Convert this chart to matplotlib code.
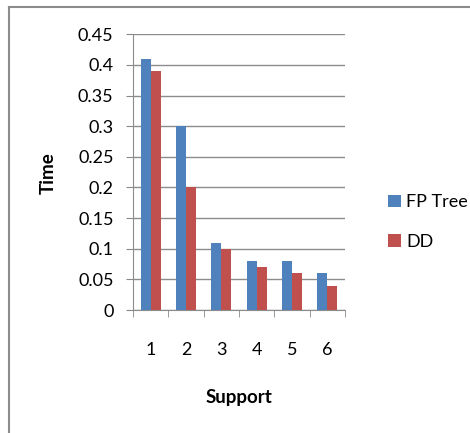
import matplotlib.pyplot as plt
import numpy as np
from matplotlib.lines import Line2D

support = [1, 2, 3, 4, 5, 6]
fp_tree = [0.41, 0.30, 0.11, 0.08, 0.08, 0.06]
dd = [0.39, 0.20, 0.10, 0.07, 0.06, 0.04]

plt.rcParams['font.family'] = ['Lato', 'DejaVu Sans']

fig = plt.figure(figsize=(4.70, 4.33), dpi=100)
ax = fig.add_axes([0.283, 0.284, 0.451, 0.637])

x = np.arange(len(support))
w = 0.28
ax.bar(x - w/2, fp_tree, w, color='#4F81BD', label='FP Tree', zorder=3)
ax.bar(x + w/2, dd, w, color='#C0504D', label='DD', zorder=3)

ax.set_xlim(-0.5, len(support) - 0.5)
ax.set_ylim(0, 0.45)
ax.set_yticks(np.arange(0, 0.451, 0.05))
ax.set_yticklabels(['0', '0.05', '0.1', '0.15', '0.2', '0.25', '0.3', '0.35', '0.4', '0.45'])
ax.set_xticks(x)
ax.set_xticklabels([str(s) for s in support])
ax.set_xticks(np.arange(-0.5, len(support)), minor=True)
ax.tick_params(axis='x', which='major', length=0, pad=23, labelsize=13, colors='black')
ax.tick_params(axis='x', which='minor', length=5, color='#888888', direction='out')
ax.tick_params(axis='y', length=5, color='#888888', pad=9, labelsize=13)

ax.grid(axis='y', color='#8c8c8c', linewidth=1, zorder=0)
for s in ['top', 'right']:
    ax.spines[s].set_visible(False)
for s in ['left', 'bottom']:
    ax.spines[s].set_color('#8c8c8c')

fig.text(48/470, 1 - 173/433, 'Time', rotation=90, ha='center', va='center',
         fontsize=13.5, fontweight='bold')
fig.text(239/470, 1 - 397/433, 'Support', ha='center', va='center',
         fontsize=13.5, fontweight='bold')

ax.legend(loc='center left', bbox_to_anchor=(372/470, 1 - 222/433),
          bbox_transform=fig.transFigure, frameon=False, fontsize=13,
          handlelength=0.7, handleheight=0.7, handletextpad=0.3, labelspacing=1.3)

fig.add_artist(Line2D([9/470, 9/470], [0, 1 - 7/433], color='#8c8c8c', linewidth=1.5))
fig.add_artist(Line2D([9/470, 1], [1 - 7/433, 1 - 7/433], color='#8c8c8c', linewidth=1.5))

fig.savefig('out.png', dpi=100)
